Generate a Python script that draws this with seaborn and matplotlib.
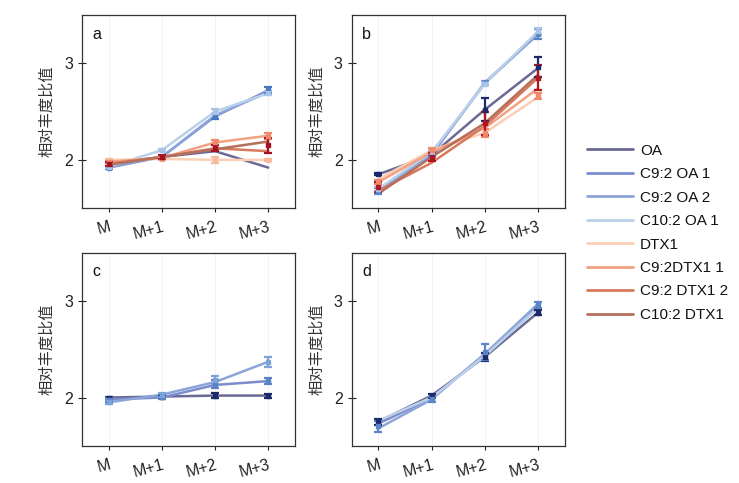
import pandas as pd
import matplotlib
matplotlib.use('Agg')
import matplotlib.pyplot as plt
from matplotlib.lines import Line2D
import seaborn as sns

# x positions / tick labels
ticks = ['M', 'M+1', 'M+2', 'M+3']

names = ['OA', 'C9:2 OA 1', 'C9:2 OA 2', 'C10:2 OA 1',
         'DTX1', 'C9:2DTX1 1', 'C9:2 DTX1 2', 'C10:2 DTX1']
colors = ['#6b6a96', '#7d8ccd', '#8ba5d8', '#bad0ea',
          '#fbcfb6', '#f3a083', '#d77a5c', '#b4705b']

# panel a: one row per series (same order as names)
a_vals = [[1.96, 2.03, 2.09, 1.92],
          [1.92, 2.03, 2.45, 2.72],
          [1.93, 2.03, 2.46, 2.70],
          [1.93, 2.10, 2.50, 2.69],
          [2.00, 2.01, 2.00, 2.00],
          [1.98, 2.02, 2.18, 2.25],
          [1.96, 2.03, 2.12, 2.09],
          [1.95, 2.03, 2.11, 2.19]]
# panel b
b_vals = [[1.85, 2.05, 2.52, 2.95],
          [1.68, 2.05, 2.80, 3.30],
          [1.66, 2.06, 2.79, 3.31],
          [1.70, 2.08, 2.79, 3.33],
          [1.80, 2.10, 2.28, 2.65],
          [1.77, 2.08, 2.33, 2.74],
          [1.68, 1.97, 2.35, 2.85],
          [1.65, 2.03, 2.38, 2.88]]
# panel c: OA, C9:2 OA 1, C9:2 OA 2
c_names = ['OA', 'C9:2 OA 1', 'C9:2 OA 2']
c_vals = [[2.00, 2.01, 2.02, 2.02],
          [1.98, 2.00, 2.13, 2.17],
          [1.95, 2.03, 2.16, 2.37]]
# panel d: OA + three OA analogues
d_names = ['OA', 'C9:2 OA 1', 'C9:2 OA 2', 'C10:2 OA 1']
d_vals = [[1.75, 2.02, 2.42, 2.88],
          [1.73, 1.99, 2.45, 2.95],
          [1.68, 1.98, 2.45, 2.97],
          [1.76, 2.00, 2.43, 2.93]]

# error bars (mean, sd, colour) per panel
a_err = [([1.92, 2.03, 2.45, 2.72], [0.01, 0.01, 0.03, 0.03], '#4a78c0'),
         ([1.93, 2.10, 2.50, 2.69], [0.01, 0.01, 0.03, 0.02], '#a9c4e6'),
         ([2.00, 2.01, 2.00, 2.00], [0.01, 0.01, 0.03, 0.01], '#f7b99e'),
         ([1.98, 2.02, 2.18, 2.25], [0.01, 0.01, 0.03, 0.03], '#ee8a6c'),
         ([1.96, 2.03, 2.12, 2.15], [0.02, 0.02, 0.03, 0.08], '#a5111f')]
b_err = [([1.85, 2.07, 2.52, 2.96], [0.01, 0.02, 0.12, 0.10], '#1c2a6b'),
         ([1.68, 2.05, 2.80, 3.30], [0.03, 0.02, 0.02, 0.05], '#5a86c8'),
         ([1.70, 2.08, 2.79, 3.33], [0.02, 0.02, 0.02, 0.04], '#a9c4e6'),
         ([1.77, 2.10, 2.28, 2.66], [0.02, 0.02, 0.04, 0.03], '#f08a6a'),
         ([1.72, 2.03, 2.38, 2.85], [0.05, 0.04, 0.12, 0.13], '#b3141f')]
c_err = [([2.00, 2.01, 2.02, 2.02], [0.01, 0.02, 0.03, 0.02], '#1c2a6b'),
         ([1.97, 2.01, 2.14, 2.17], [0.02, 0.03, 0.04, 0.03], '#5b82c6'),
         ([1.95, 2.03, 2.18, 2.37], [0.02, 0.02, 0.04, 0.05], '#7ca2d8')]
d_err = [([1.75, 2.02, 2.42, 2.88], [0.03, 0.02, 0.04, 0.03], '#1c2a6b'),
         ([1.70, 1.98, 2.47, 2.96], [0.06, 0.03, 0.08, 0.03], '#5a86c8')]

sns.set_style('ticks')
plt.rcParams['font.family'] = ['Liberation Sans', 'DejaVu Sans']
plt.rcParams['font.size'] = 10.5
plt.rcParams['text.color'] = '#111111'
plt.rcParams['xtick.color'] = '#222222'
plt.rcParams['ytick.color'] = '#222222'

palette = dict(zip(names, colors))


def to_long(series, vals):
    rows = []
    for s, v in zip(series, vals):
        for i, y in enumerate(v):
            rows.append({'series': s, 'x': i, 'y': y})
    return pd.DataFrame(rows)


fig = plt.figure(figsize=(7.39, 4.83), dpi=100)
boxes = {'a': [0.111, 0.569, 0.288, 0.400],
         'b': [0.476, 0.569, 0.288, 0.400],
         'c': [0.111, 0.077, 0.288, 0.400],
         'd': [0.476, 0.077, 0.288, 0.400]}
panels = {'a': (names, a_vals, a_err),
          'b': (names, b_vals, b_err),
          'c': (c_names, c_vals, c_err),
          'd': (d_names, d_vals, d_err)}

for key, (series, vals, errs) in panels.items():
    ax = fig.add_axes(boxes[key])
    df = to_long(series, vals)
    sns.lineplot(data=df, x='x', y='y', hue='series', hue_order=series,
                 palette=palette, linewidth=1.8, legend=False, ax=ax)
    for mean, sd, col in errs:
        ax.errorbar(range(len(ticks)), mean, yerr=sd, fmt='s', ms=3,
                    color=col, ecolor=col, elinewidth=1.6, capsize=3,
                    capthick=1.6, lw=0)
    ax.set_xlim(-0.5, 3.5)
    ax.set_ylim(1.5, 3.5)
    ax.set_xticks(range(len(ticks)))
    ax.set_xticklabels(ticks, rotation=15, ha='right', rotation_mode='anchor')
    ax.set_yticks([2, 3])
    ax.set_yticklabels(['2', '3'])
    ax.tick_params(axis='x', direction='out', length=3, pad=5, labelsize=11.5)
    ax.tick_params(axis='y', direction='inout', length=6, labelsize=11.5)
    ax.grid(axis='x', color='#f2f2f2', lw=0.8)
    ax.set_axisbelow(True)
    ax.set_xlabel('')
    ax.set_ylabel('相对丰度比值', family=['Noto Sans CJK SC', 'DejaVu Sans'],
                  fontsize=11, color='#333333', labelpad=6)
    for sp in ax.spines.values():
        sp.set_color('#333333')
        sp.set_linewidth(0.9)
    ax.text(0.05, 0.9, key, transform=ax.transAxes, fontsize=11.5, va='center')

handles = [Line2D([0], [0], color=c, lw=2) for c in colors]
fig.legend(handles, names, loc='center left', bbox_to_anchor=(0.776, 0.518),
           frameon=False, handlelength=3.0, handletextpad=0.45,
           labelspacing=0.62, fontsize=11)

fig.savefig('out.png', dpi=100)
